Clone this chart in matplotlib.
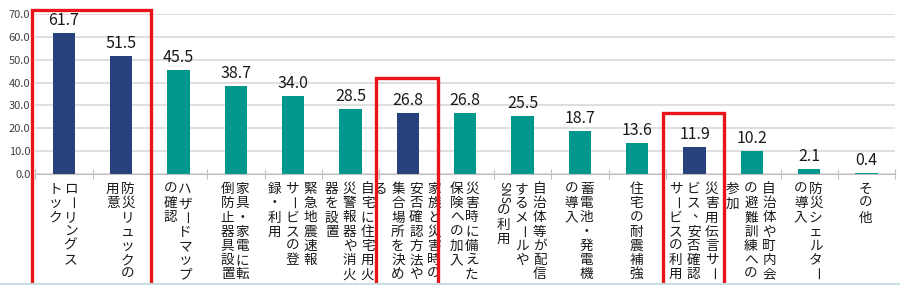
import re
import matplotlib
matplotlib.use("Agg")
import matplotlib.pyplot as plt
from matplotlib.patches import Rectangle
from matplotlib.lines import Line2D

plt.rcParams['font.family'] = ['Noto Sans CJK JP', 'DejaVu Sans']

# label text split into the vertical columns (right column first)
labels = [
    ["ローリングス", "トック"],
    ["防災リュックの", "用意"],
    ["ハザードマップ", "の確認"],
    ["家具・家電に転", "倒防止器具設置"],
    ["緊急地震速報", "サービスの登", "録・利用"],
    ["自宅に住宅用火", "災警報器や消火", "器を設置"],
    ["家族と災害時の", "安否確認方法や", "集合場所を決め", "る"],
    ["災害時に備えた", "保険への加入"],
    ["自治体等が配信", "するメールや", "SNSの利用"],
    ["蓄電池・発電機", "の導入"],
    ["住宅の耐震補強"],
    ["災害用伝言サー", "ビス、安否確認", "サービスの利用"],
    ["自治体や町内会", "の避難訓練への", "参加"],
    ["防災シェルター", "の導入"],
    ["その他"],
]
values = [61.7, 51.5, 45.5, 38.7, 34.0, 28.5, 26.8, 26.8, 25.5, 18.7, 13.6, 11.9, 10.2, 2.1, 0.4]
highlight = [0, 1, 6, 11]
boxes = [(0, 1), (6, 6), (11, 11)]

navy = '#26417B'
teal = '#00978C'
red = '#E8141C'

fig = plt.figure(figsize=(9, 2.85), dpi=100)
ax = fig.add_axes([35.3 / 900, 111 / 285, 860 / 900, 160 / 285])

x = list(range(len(values)))
colors = [navy if i in highlight else teal for i in x]
ax.bar(x, values, width=0.39, color=colors, zorder=3)

ax.set_xlim(-0.5, len(values) - 0.5)
ax.set_ylim(0, 70)
ax.set_yticks(range(0, 71, 10))
ax.set_yticklabels([f"{t:.1f}" for t in range(0, 71, 10)], fontsize=8, color='#404040')
ax.tick_params(axis='y', length=0, pad=3.5)
ax.grid(axis='y', color='#D9D9D9', lw=1.2, zorder=0)
for s in ['top', 'right', 'left']:
    ax.spines[s].set_visible(False)
ax.spines['bottom'].set_color('#BFBFBF')
ax.spines['bottom'].set_zorder(4)
ax.set_xticks([i + 0.5 for i in range(-1, len(values))])
ax.set_xticklabels([])
ax.tick_params(axis='x', direction='inout', length=7, color='#BFBFBF')

ax.text(-0.2, 1.04, "(%)", transform=ax.get_yaxis_transform(), fontsize=5.5,
        color='#606060', ha='right', va='bottom')

for i, v in enumerate(values):
    ax.annotate(f"{v:.1f}", (i, v), xytext=(0, 4), textcoords='offset pixels',
                ha='center', va='bottom', fontsize=11.5, color='#1A1A1A')

# vertical japanese labels
pitch = 14.2
for i, cols in enumerate(labels):
    n = len(cols)
    colgap = 15 if n <= 2 else 18
    for j, col in enumerate(cols):
        dx = ((n - 1) / 2 - j) * colgap - 1
        y = -8
        for tok in re.findall(r'[A-Za-z]+|.', col):
            size = 9.8
            if tok.isascii():
                h = 6.5 * len(tok) + 2
                rot = -90
                size = 8.5
            else:
                h = pitch
                rot = -90 if tok == 'ー' else 0
            shift = 5 if tok == '、' else 0
            ax.annotate(tok, xy=(i, 0), xycoords=('data', 'axes fraction'),
                        xytext=(dx + shift, y - h / 2 + shift), textcoords='offset pixels',
                        ha='center', va='center', fontsize=size, color='#1A1A1A',
                        rotation=rot, rotation_mode='anchor', annotation_clip=False)
            y -= h

# red highlight boxes
for a, b in boxes:
    top = min(max(values[a:b + 1]) + 15, 71.8)
    ax.add_patch(Rectangle((a - 0.56, -49), b - a + 1.08, top + 49, fill=False,
                           edgecolor=red, lw=2.4, clip_on=False, zorder=5))

fig.add_artist(Line2D([0, 1], [0.004, 0.004], color='#C8DDE4', lw=1.5))

fig.savefig("out.png", dpi=100, facecolor='white')
